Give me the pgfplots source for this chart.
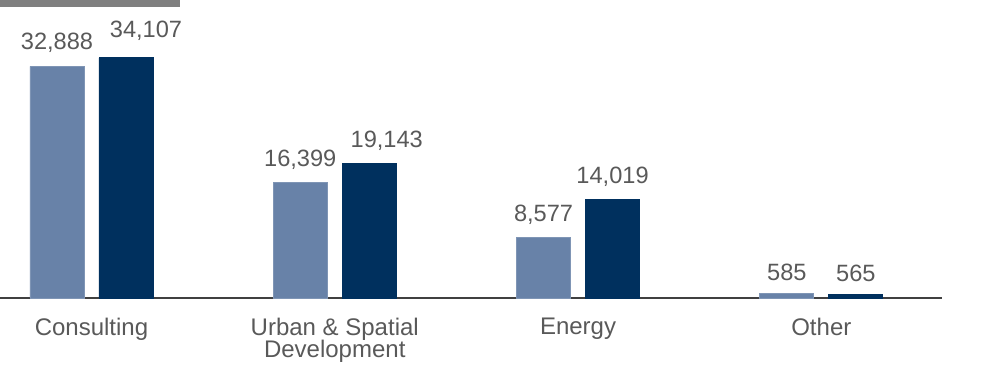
\documentclass[border=0pt]{standalone}
\usepackage{fontspec}
\setmainfont{Liberation Sans}
\usepackage{pgfplots}
\usetikzlibrary{calc}
\pgfplotsset{compat=1.18}
\definecolor{lightbar}{RGB}{104,130,168}
\definecolor{darkbar}{RGB}{0,48,94}
\definecolor{txt}{RGB}{89,89,89}
\definecolor{axln}{RGB}{64,64,64}
\definecolor{topbar}{RGB}{127,127,127}
\begin{document}
\begin{tikzpicture}
\begin{axis}[
  scale only axis,
  width=471pt, height=149pt,
  xmin=-0.376, xmax=3.496,
  ymin=0, ymax=42330,
  axis y line=none,
  axis x line*=bottom,
  x axis line style={-, draw=axln, line width=0.9pt},
  xtick={0,1,2,3},
  xticklabels={Consulting,{Urban \& Spatial\\[-1pt]Development},Energy,Other},
  major tick length=0pt,
  xticklabel style={font=\fontsize{12}{12}\selectfont, text=txt, align=center, yshift=-6.5pt},
  ybar, bar width=27pt, ybar=7.5pt,
  clip=false,
  nodes near coords,
  every node near coord/.append style={font=\fontsize{11.8}{13}\selectfont, text=txt, yshift=2.8pt},
  /pgf/number format/.cd, 1000 sep={,}, fixed, precision=0, assume math mode=true,
]
\addplot[fill=lightbar, draw=lightbar!85!white,
  visualization depends on={\thisrow{dx} \as \lblx},
  visualization depends on={\thisrow{dy} \as \lbly},
  nodes near coords style={xshift=\lblx pt, yshift=\lbly pt}] table {
x y dx dy
0 32888 0 0.8
1 16399 0 0
2 8577 0 0
3 585 0 0
};
\addplot[fill=darkbar, draw=darkbar,
  visualization depends on={\thisrow{dx} \as \lblx},
  visualization depends on={\thisrow{dy} \as \lbly},
  nodes near coords style={xshift=\lblx pt, yshift=\lbly pt}] table {
x y dx dy
0 34107 10 2.5
1 19143 8.75 0
2 14019 0 0
3 565 0 0
};
\end{axis}
\fill[topbar] ($(current axis.south west)+(0,145.5pt)$) rectangle ($(current axis.south west)+(90pt,149pt)$);
\pgfresetboundingbox
\path[use as bounding box] ($(current axis.south west)+(0,-35pt)$) rectangle ($(current axis.south west)+(499pt,149pt)$);
\end{tikzpicture}
\end{document}
